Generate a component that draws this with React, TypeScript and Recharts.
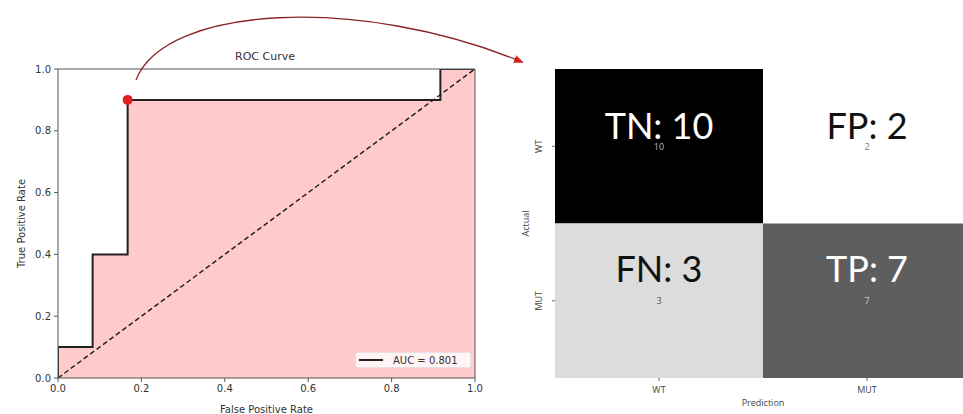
import React from "react";
import {
  ComposedChart,
  Area,
  XAxis,
  YAxis,
  ReferenceLine,
  ReferenceDot,
  Label,
  ScatterChart,
  Scatter,
} from "recharts";

// ---- ROC data ----
const fpr = [0, 0, 0.083, 0.083, 0.167, 0.167, 0.917, 0.917, 1];
const tpr = [0, 0.1, 0.1, 0.4, 0.4, 0.9, 0.9, 1, 1];
const rocTicks = [0, 0.2, 0.4, 0.6, 0.8, 1];
const chanceLine = [
  { x: 0, y: 0 },
  { x: 1, y: 1 },
];
const highlightPoint = { x: 0.167, y: 0.9 };
const aucLabel = "AUC = 0.801";
const rocTitle = "ROC Curve";

// ---- Confusion matrix data ----
const classes = ["WT", "MUT"];
const cmNames = ["TN", "FP", "FN", "TP"];
const cmValues = [10, 2, 3, 7];
// styles (per cell)
const cmFill = ["#000000", "#ffffff", "#dcdcdc", "#5e5e5e"];
const cmText = ["#ffffff", "#111111", "#111111", "#ffffff"];
const cmSmallText = ["#bbbbbb", "#777777", "#555555", "#cccccc"];

const rocData = fpr.map((x, i) => ({ fpr: x, tpr: tpr[i] }));
const cmData = cmValues.map((v, i) => ({
  col: i % 2,
  row: Math.floor(i / 2),
  name: cmNames[i],
  value: v,
  idx: i,
}));

const AXIS = "#555";
const TICKFONT = { fontSize: 10, fill: "#333", fontFamily: "DejaVu Sans" };

const CM_W = 480;
const CM_H = 414;
const CM_MARGIN = { top: 69, right: 9, bottom: 0, left: 15 };
const CM_YW = 40;
const CM_XH = 36;
const cmPlotW = CM_W - CM_MARGIN.left - CM_MARGIN.right - CM_YW;
const cmPlotH = CM_H - CM_MARGIN.top - CM_MARGIN.bottom - CM_XH;
const rowDy = [-21, -33];

const renderCell = (props: any) => {
  const { cx, cy, payload } = props;
  const w = cmPlotW / classes.length;
  const h = cmPlotH / classes.length;
  const i = payload.idx;
  return (
    <g>
      <rect x={cx - w / 2} y={cy - h / 2} width={w} height={h} fill={cmFill[i]} />
      <text
        x={cx}
        y={cy + rowDy[payload.row]}
        textAnchor="middle"
        dominantBaseline="central"
        fontSize={36}
        fontFamily="Lato"
        fill={cmText[i]}
      >
        {`${payload.name}: ${payload.value}`}
      </text>
      <text
        x={cx}
        y={cy}
        textAnchor="middle"
        dominantBaseline="central"
        fontSize={9}
        fontFamily="Open Sans"
        fill={cmSmallText[i]}
      >
        {payload.value}
      </text>
    </g>
  );
};

const CmYTick = (props: any) => {
  const { x, y, payload } = props;
  const tx = x - 12;
  return (
    <text
      x={tx}
      y={y}
      transform={`rotate(-90, ${tx}, ${y})`}
      textAnchor="middle"
      dominantBaseline="central"
      fontSize={9}
      fontFamily="Open Sans"
      fill="#444"
    >
      {classes[payload.value]}
    </text>
  );
};

const CmXTick = (props: any) => {
  const { x, y, payload } = props;
  return (
    <text
      x={x}
      y={y + 6}
      textAnchor="middle"
      dominantBaseline="central"
      fontSize={9}
      fontFamily="Open Sans"
      fill="#444"
    >
      {classes[payload.value]}
    </text>
  );
};

export default function App() {
  return (
    <div
      style={{
        position: "absolute",
        left: 0,
        top: 0,
        width: 963,
        height: 414,
        overflow: "hidden",
        background: "#fff",
        fontFamily: "DejaVu Sans",
      }}
    >
      <div style={{ position: "absolute", left: 0, top: 0 }}>
        <ComposedChart
          width={490}
          height={414}
          data={rocData}
          margin={{ top: 69, right: 15, bottom: 0, left: 8 }}
        >
          <XAxis
            dataKey="fpr"
            type="number"
            domain={[0, 1]}
            ticks={rocTicks}
            tickFormatter={(v: number) => v.toFixed(1)}
            stroke={AXIS}
            tick={TICKFONT}
            tickSize={4}
            tickMargin={3}
            height={36}
            allowDataOverflow
          >
            <Label
              value="False Positive Rate"
              position="insideBottom"
              offset={1}
              style={{ fontSize: 10, fill: "#333", fontFamily: "DejaVu Sans" }}
            />
          </XAxis>
          <YAxis
            type="number"
            domain={[0, 1]}
            ticks={rocTicks}
            tickFormatter={(v: number) => v.toFixed(1)}
            stroke={AXIS}
            tick={TICKFONT}
            tickSize={4}
            tickMargin={3}
            width={50}
            allowDataOverflow
          >
            <Label
              content={(p: any) => {
                const vb = p.viewBox;
                const x = vb.x + 13;
                const y = vb.y + vb.height / 2;
                return (
                  <text
                    x={x}
                    y={y}
                    transform={`rotate(-90, ${x}, ${y})`}
                    textAnchor="middle"
                    dominantBaseline="central"
                    fontSize={10}
                    fill="#333"
                    fontFamily="DejaVu Sans"
                  >
                    True Positive Rate
                  </text>
                );
              }}
            />
          </YAxis>
          <Area
            dataKey="tpr"
            type="linear"
            stroke="#222"
            strokeWidth={2}
            fill="#ffcaca"
            fillOpacity={1}
            dot={false}
            activeDot={false}
            isAnimationActive={false}
          />
          <ReferenceLine
            segment={chanceLine}
            stroke="#222"
            strokeWidth={1.5}
            strokeDasharray="5 3"
          />
          <ReferenceLine y={1} stroke={AXIS} />
          <ReferenceLine x={1} stroke={AXIS} />
          <ReferenceDot
            x={highlightPoint.x}
            y={highlightPoint.y}
            r={5}
            fill="#e02020"
            stroke="none"
          />
        </ComposedChart>
      </div>

      <div
        style={{
          position: "absolute",
          left: 225,
          top: 50,
          width: 80,
          textAlign: "center",
          fontSize: 11,
          color: "#333",
          fontFamily: "DejaVu Sans",
        }}
      >
        {rocTitle}
      </div>

      <div
        style={{
          position: "absolute",
          left: 355,
          top: 352,
          width: 116,
          height: 16,
          background: "rgba(255,255,255,0.8)",
          border: "1px solid #e6e0e0",
          borderRadius: 2,
          boxSizing: "border-box",
          display: "flex",
          alignItems: "center",
          fontSize: 10,
          color: "#333",
          fontFamily: "DejaVu Sans",
        }}
      >
        <div style={{ width: 24, height: 2, background: "#222", marginLeft: 3, marginRight: 10 }} />
        <span>{aucLabel}</span>
      </div>

      <div style={{ position: "absolute", left: 500, top: 0 }}>
        <ScatterChart width={CM_W} height={CM_H} margin={CM_MARGIN}>
          <XAxis
            dataKey="col"
            type="number"
            domain={[-0.5, 1.5]}
            ticks={[0, 1]}
            axisLine={false}
            tickSize={3}
            tickLine={{ stroke: "#666" }}
            tick={<CmXTick />}
            height={CM_XH}
            allowDataOverflow
          >
            <Label
              value="Prediction"
              position="insideBottom"
              offset={8}
              style={{ fontSize: 9, fill: "#444", fontFamily: "Open Sans" }}
            />
          </XAxis>
          <YAxis
            dataKey="row"
            type="number"
            domain={[-0.5, 1.5]}
            ticks={[0, 1]}
            reversed
            axisLine={false}
            tickSize={3}
            tickLine={{ stroke: "#666" }}
            tick={<CmYTick />}
            width={CM_YW}
            allowDataOverflow
          >
            <Label
              content={(p: any) => {
                const vb = p.viewBox;
                const x = vb.x + 10;
                const y = vb.y + vb.height / 2;
                return (
                  <text
                    x={x}
                    y={y}
                    transform={`rotate(-90, ${x}, ${y})`}
                    textAnchor="middle"
                    dominantBaseline="central"
                    fontSize={9}
                    fill="#444"
                    fontFamily="Open Sans"
                  >
                    Actual
                  </text>
                );
              }}
            />
          </YAxis>
          <Scatter data={cmData} shape={renderCell} isAnimationActive={false} />
        </ScatterChart>
      </div>

      <svg
        width={963}
        height={414}
        style={{ position: "absolute", left: 0, top: 0, pointerEvents: "none" }}
      >
        <defs>
          <marker
            id="ah"
            markerWidth="10"
            markerHeight="8"
            refX="8"
            refY="4"
            orient="auto"
            markerUnits="userSpaceOnUse"
          >
            <path d="M0,0 L10,4 L0,8 Z" fill="#d42020" />
          </marker>
        </defs>
        <path
          d="M136,80 C165,5 360,-5 522,62"
          fill="none"
          stroke="#8b2525"
          strokeWidth={1.3}
          markerEnd="url(#ah)"
        />
      </svg>
    </div>
  );
}
